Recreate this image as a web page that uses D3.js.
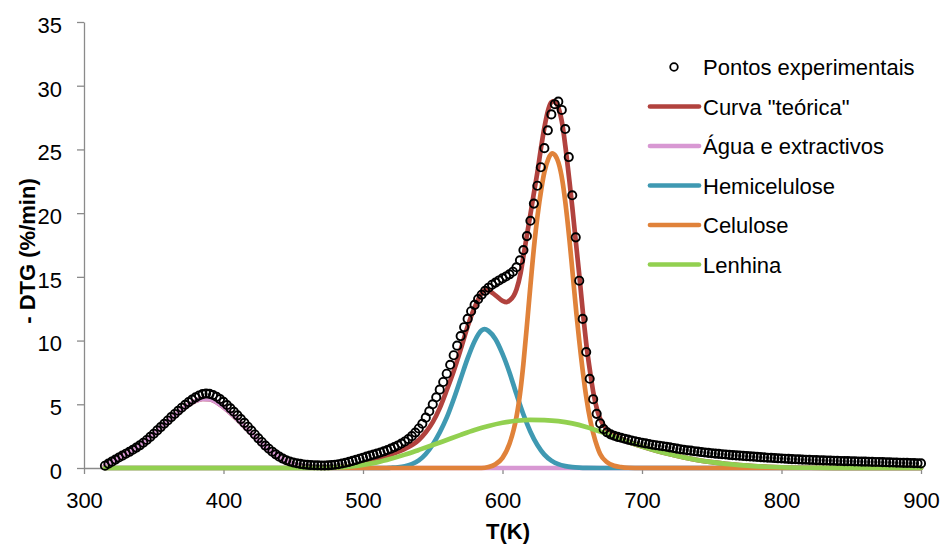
<!DOCTYPE html>
<html>
<head>
<meta charset="utf-8">
<script src="https://cdn.jsdelivr.net/npm/d3@7/dist/d3.min.js"></script>
<style>
  body { margin: 0; background: #fff; }
  svg { display: block; }
  text { font-family: "Liberation Sans", Arial, sans-serif; fill: #000; }
</style>
</head>
<body>
<svg id="chart" width="946" height="545"></svg>
<script>
// Experimental -DTG points [T (K), -DTG (%/min)]
const pontos = [
  [315,0.18],[317.5,0.34],[320,0.5],[322.5,0.66],[325,0.82],[327.5,0.97],[330,1.12],[332.5,1.27],
  [335,1.43],[337.5,1.6],[340,1.78],[342.5,1.98],[345,2.2],[347.5,2.44],[350,2.69],[352.5,2.95],
  [355,3.21],[357.5,3.47],[360,3.73],[362.5,3.99],[365,4.24],[367.5,4.49],[370,4.73],[372.5,4.96],
  [375,5.17],[377.5,5.37],[380,5.54],[382.5,5.69],[385,5.8],[387.5,5.85],[390,5.82],[392.5,5.73],
  [395,5.59],[397.5,5.41],[400,5.19],[402.5,4.94],[405,4.68],[407.5,4.41],[410,4.13],[412.5,3.84],
  [415,3.54],[417.5,3.24],[420,2.94],[422.5,2.63],[425,2.33],[427.5,2.04],[430,1.76],[432.5,1.51],
  [435,1.28],[437.5,1.07],[440,0.89],[442.5,0.74],[445,0.61],[447.5,0.51],[450,0.43],[452.5,0.37],
  [455,0.32],[457.5,0.28],[460,0.25],[462.5,0.23],[465,0.22],[467.5,0.21],[470,0.2],[472.5,0.2],
  [475,0.21],[477.5,0.23],[480,0.26],[482.5,0.3],[485,0.35],[487.5,0.41],[490,0.48],[492.5,0.56],
  [495,0.64],[497.5,0.73],[500,0.81],[502.5,0.89],[505,0.97],[507.5,1.05],[510,1.13],[512.5,1.22],
  [515,1.31],[517.5,1.41],[520,1.52],[522.5,1.64],[525,1.77],[527.5,1.92],[530,2.08],[532.5,2.27],
  [535,2.5],[537.5,2.78],[540,3.1],[542.5,3.47],[545,3.95],[547.5,4.45],[550,5.0],[552.5,5.55],
  [555,6.15],[557.5,6.75],[560,7.4],[562.5,8.1],[565,8.85],[567.5,9.6],[570,10.35],[572.5,11.05],
  [575,11.7],[577.5,12.3],[580,12.8],[582.5,13.25],[585,13.6],[587.5,13.9],[590,14.15],[592.5,14.38],
  [595,14.55],[597.5,14.72],[600,14.88],[602.5,15.03],[605,15.2],[607.5,15.4],[610,15.75],[612.5,16.3],
  [615,17.1],[617.5,18.2],[620,19.4],[622.5,20.75],[625,22.15],[627.5,23.6],[630,25.1],[632.5,26.5],
  [635,27.75],[637.5,28.55],[640,28.75],[642.5,28.1],[645,26.6],[647.5,24.4],[650,21.4],[652.5,18.1],
  [655,14.7],[657.5,11.7],[660,9.1],[662.5,7.0],[665,5.4],[667.5,4.25],[670,3.5],[672.5,3.05],
  [675,2.8],[677.5,2.64],[680,2.53],[682.5,2.44],[685,2.37],[687.5,2.3],[690,2.23],[692.5,2.16],
  [695,2.1],[697.5,2.04],[700,1.98],[702.5,1.93],[705,1.88],[707.5,1.83],[710,1.79],[712.5,1.75],
  [715,1.71],[717.5,1.67],[720,1.62],[722.5,1.57],[725,1.52],[727.5,1.47],[730,1.43],[732.5,1.39],
  [735,1.36],[737.5,1.32],[740,1.29],[742.5,1.25],[745,1.22],[747.5,1.19],[750,1.16],[752.5,1.13],
  [755,1.11],[757.5,1.08],[760,1.06],[762.5,1.03],[765,1.01],[767.5,0.99],[770,0.97],[772.5,0.95],
  [775,0.93],[777.5,0.91],[780,0.89],[782.5,0.87],[785,0.85],[787.5,0.83],[790,0.81],[792.5,0.8],
  [795,0.78],[797.5,0.76],[800,0.75],[802.5,0.73],[805,0.72],[807.5,0.7],[810,0.69],[812.5,0.68],
  [815,0.66],[817.5,0.65],[820,0.64],[822.5,0.63],[825,0.62],[827.5,0.61],[830,0.6],[832.5,0.59],
  [835,0.58],[837.5,0.57],[840,0.56],[842.5,0.55],[845,0.54],[847.5,0.54],[850,0.53],[852.5,0.52],
  [855,0.51],[857.5,0.5],[860,0.5],[862.5,0.49],[865,0.48],[867.5,0.47],[870,0.47],[872.5,0.46],
  [875,0.45],[877.5,0.44],[880,0.43],[882.5,0.42],[885,0.41],[887.5,0.4],[890,0.4],[892.5,0.39],
  [895,0.38],[897.5,0.37],[900,0.36]
];

// Fitted ("theoretical") curve
const curvaTeorica = [
  [315,0.15],[320,0.45],[325,0.8],[330,1.1],[335,1.4],[340,1.75],[345,2.18],[350,2.65],[355,3.15],
  [360,3.65],[365,4.12],[370,4.57],[375,4.97],[380,5.27],[385,5.43],[390,5.4],[395,5.17],[400,4.78],
  [405,4.32],[410,3.8],[415,3.25],[420,2.7],[425,2.15],[430,1.65],[435,1.2],[440,0.82],[445,0.53],
  [450,0.32],[455,0.18],[460,0.1],[465,0.05],[470,0.03],[480,0.05],[490,0.13],[500,0.3],[510,0.6],
  [520,1.05],[530,1.5],[540,2.2],[545,2.8],[550,3.6],[555,4.7],[560,6.1],[565,7.6],[570,9.3],
  [575,11.1],[580,12.6],[585,13.7],[588,13.97],[590,13.93],[595,13.55],[600,13.12],[603,13.02],
  [605,13.15],[608,13.5],[610,14.0],[613,15.3],[615,16.6],[618,18.6],[620,19.9],[623,21.9],
  [625,23.2],[628,25.4],[630,26.7],[633,28.2],[635,28.7],[637,28.8],[640,28.3],[643,26.9],
  [645,25.3],[648,22.5],[650,20.5],[653,17.3],[655,15.2],[658,11.8],[660,9.8],[663,7.4],[665,6.0],
  [668,4.5],[670,3.85],[675,3.0],[680,2.6],[685,2.3],[690,2.06],[700,1.68],[710,1.36],[720,1.08],
  [730,0.83],[740,0.62],[750,0.46],[760,0.33],[770,0.23],[780,0.15],[790,0.1],[800,0.06],
  [820,0.02],[840,0.005],[860,0],[900,0]
];

// Water and extractives
const agua = [
  [315,0.15],[320,0.45],[325,0.8],[330,1.1],[335,1.4],[340,1.75],[345,2.18],[350,2.65],[355,3.15],
  [360,3.65],[365,4.12],[370,4.57],[375,4.97],[380,5.27],[385,5.43],[390,5.4],[395,5.17],[400,4.78],
  [405,4.32],[410,3.8],[415,3.25],[420,2.7],[425,2.15],[430,1.65],[435,1.2],[440,0.82],[445,0.53],
  [450,0.32],[455,0.18],[460,0.1],[465,0.05],[470,0.02],[480,0],[900,0]
];

// Hemicellulose
const hemicelulose = [
  [315,0],[515,0],[520,0.02],[525,0.05],[530,0.13],[535,0.3],[540,0.6],[545,1.1],[550,1.85],
  [555,2.8],[560,3.95],[565,5.4],[570,7.0],[575,8.6],[580,9.95],[585,10.8],[587,10.9],[590,10.75],
  [595,10.1],[600,8.95],[605,7.5],[610,5.8],[615,4.2],[620,2.85],[625,1.8],[630,1.05],[635,0.58],
  [640,0.3],[645,0.15],[650,0.07],[655,0.03],[660,0.01],[670,0],[900,0]
];

// Cellulose
const celulose = [
  [315,0],[585,0],[590,0.08],[595,0.3],[600,0.8],[605,1.9],[608,3.0],[610,4.0],[613,6.2],[615,8.2],
  [618,11.8],[620,14.3],[623,17.8],[625,19.7],[628,22.0],[630,23.2],[633,24.3],[635.5,24.7],
  [638,24.5],[640,24.0],[643,22.5],[645,20.9],[648,17.9],[650,15.6],[653,12.1],[655,10.0],[658,7.2],
  [660,5.6],[663,3.7],[665,2.75],[668,1.65],[670,1.1],[675,0.45],[680,0.18],[685,0.07],[690,0.02],
  [700,0],[900,0]
];

// Lignin
const lenhina = [
  [315,0],[470,0],[480,0.04],[490,0.11],[500,0.24],[510,0.44],[520,0.72],[530,1.05],[540,1.42],
  [550,1.8],[560,2.2],[570,2.6],[580,2.98],[590,3.3],[600,3.55],[610,3.71],[620,3.78],[630,3.76],
  [640,3.68],[650,3.5],[660,3.22],[670,2.86],[680,2.45],[690,2.05],[700,1.68],[710,1.36],[720,1.08],
  [730,0.83],[740,0.62],[750,0.46],[760,0.33],[770,0.23],[780,0.15],[790,0.1],[800,0.06],[820,0.02],
  [840,0.005],[860,0],[900,0]
];

const xTicks = [300, 400, 500, 600, 700, 800, 900];
const yTicks = [0, 5, 10, 15, 20, 25, 30, 35];
const xTitle = "T(K)";
const yTitle = "- DTG (%/min)";

// Line series, bottom to top
const lineSeries = [
  { name: 'Curva "teórica"', data: curvaTeorica, color: "#B1423E" },
  { name: "Água e extractivos", data: agua, color: "#D898D3" },
  { name: "Hemicelulose", data: hemicelulose, color: "#3F99B2" },
  { name: "Celulose", data: celulose, color: "#E0823A" },
  { name: "Lenhina", data: lenhina, color: "#92D050" }
];
const legendOrder = ['Curva "teórica"', "Água e extractivos", "Hemicelulose", "Celulose", "Lenhina"];

const svg = d3.select("#chart");
const x = d3.scaleLinear().domain([300, 900]).range([84, 921]);
const y = d3.scaleLinear().domain([0, 35]).range([468, 22]);
const axisColor = "#8a8a8a";

// Y axis
const gy = svg.append("g").attr("transform", "translate(84,0)")
  .call(d3.axisLeft(y).tickValues(yTicks).tickSize(7).tickSizeOuter(0).tickPadding(15));
gy.select(".domain").attr("stroke", axisColor).attr("stroke-width", 1.3);
gy.selectAll(".tick line").attr("stroke", axisColor).attr("stroke-width", 1.3);
gy.selectAll(".tick text").attr("font-size", 22).attr("dy", "0.47em")
  .attr("font-family", '"Liberation Sans", Arial, sans-serif').attr("fill", "#000");

// X axis
const gx = svg.append("g").attr("transform", "translate(0,468)")
  .call(d3.axisBottom(x).tickValues(xTicks).tickSize(6).tickSizeOuter(0).tickPadding(18));
gx.select(".domain").attr("stroke", axisColor).attr("stroke-width", 1.3);
gx.selectAll(".tick line").attr("stroke", axisColor).attr("stroke-width", 1.3);
gx.selectAll(".tick text").attr("font-size", 22)
  .attr("font-family", '"Liberation Sans", Arial, sans-serif').attr("fill", "#000");

// Axis titles
svg.append("text").attr("x", 508).attr("y", 538.5).attr("text-anchor", "middle")
  .attr("font-size", 22).attr("font-weight", "bold").text(xTitle);
svg.append("text").attr("transform", "translate(35,251) rotate(-90)").attr("text-anchor", "middle")
  .attr("font-size", 22).attr("font-weight", "bold").text(yTitle);

// Curves
const line = d3.line().x(d => x(d[0])).y(d => y(d[1])).curve(d3.curveMonotoneX);
svg.append("g").selectAll("path").data(lineSeries).join("path")
  .attr("d", d => line(d.data))
  .attr("fill", "none")
  .attr("stroke", d => d.color)
  .attr("stroke-width", 4.7)
  .attr("stroke-linejoin", "round")
  .attr("stroke-linecap", "round");

// Experimental points
svg.append("g").selectAll("circle").data(pontos).join("circle")
  .attr("cx", d => x(d[0])).attr("cy", d => y(d[1])).attr("r", 4.1)
  .attr("fill", "none").attr("stroke", "#000").attr("stroke-width", 1.9);

// Legend
const legend = svg.append("g");
const rowY = i => 67 + i * 39.5;
legend.append("circle").attr("cx", 674).attr("cy", rowY(0)).attr("r", 3.8)
  .attr("fill", "none").attr("stroke", "#000").attr("stroke-width", 1.8);
legend.append("text").attr("x", 703).attr("y", rowY(0) + 8).attr("font-size", 22)
  .text("Pontos experimentais");
legendOrder.forEach((name, i) => {
  const s = lineSeries.find(d => d.name === name);
  const yy = rowY(i + 1);
  legend.append("line").attr("x1", 650).attr("x2", 699).attr("y1", yy).attr("y2", yy)
    .attr("stroke", s.color).attr("stroke-width", 4.7).attr("stroke-linecap", "round");
  legend.append("text").attr("x", 703).attr("y", yy + 8).attr("font-size", 22).text(name);
});
</script>
</body>
</html>
